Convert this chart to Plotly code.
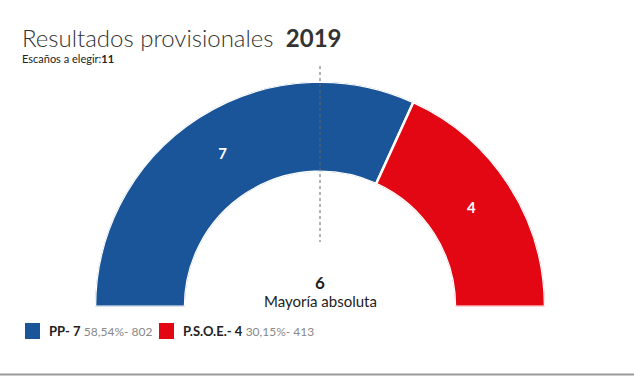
import plotly.graph_objects as go

# ---- data ----
parties = ["PP", "P.S.O.E."]
seats = [7, 4]
pcts = ["58,54%", "30,15%"]
votes = [802, 413]
colors = ["#1A5599", "#E30613"]
total_seats = 11
majority = 6
year = "2019"

W, H = 634, 376
FONT = "Lato, 'Open Sans', sans-serif"

# angular placement computed from seats (counterclockwise from east; PP starts at west)
thetas, widths = [], []
start = 180.0
for s in seats:
    w = s / total_seats * 180.0
    thetas.append(start - w / 2)
    widths.append(w)
    start -= w

fig = go.Figure()
fig.add_trace(go.Barpolar(
    r=[1] * len(seats), theta=thetas, width=widths,
    marker=dict(color=colors, line=dict(color="white", width=2.5)),
    showlegend=False, hoverinfo="skip",
))
fig.add_trace(go.Scatterpolar(
    r=[0.5] * len(seats), theta=thetas, mode="text",
    text=[str(s) for s in seats],
    textfont=dict(family=FONT, size=15, color="white", weight="bold"),
    showlegend=False, hoverinfo="skip",
))

# polar geometry (pixels)
cx, cy, R = 320, 306.7, 225
fig.update_layout(
    width=W, height=H,
    margin=dict(l=0, r=0, t=0, b=0),
    paper_bgcolor="white", plot_bgcolor="white",
    polar=dict(
        domain=dict(x=[(cx - R) / W, (cx + R) / W], y=[(H - cy) / H, (H - cy + R) / H]),
        sector=[0, 180], hole=0.6, bgcolor="rgba(0,0,0,0)",
        radialaxis=dict(range=[0, 1], visible=False),
        angularaxis=dict(visible=False, direction="counterclockwise", rotation=0),
    ),
    showlegend=False,
)

shapes = []
# dashed majority line
shapes.append(dict(type="line", xref="paper", yref="paper",
                   x0=cx / W, x1=cx / W, y0=(H - 66) / H, y1=(H - 242) / H,
                   line=dict(color="#666", width=1, dash="3px,3px"), layer="above"))
# bottom gray rule
shapes.append(dict(type="line", xref="paper", yref="paper",
                   x0=0, x1=1, y0=(H - 374.5) / H, y1=(H - 374.5) / H,
                   line=dict(color="#9a9a9a", width=2)))

annotations = []
annotations.append(dict(
    x=20 / W, y=(H - 37) / H, xref="paper", yref="paper", xanchor="left", yanchor="middle",
    text=f"<span style='font-weight:300'>Resultados provisionales</span>  <b>{year}</b>",
    showarrow=False, font=dict(family=FONT, size=24, color="#333")))
annotations.append(dict(
    x=20 / W, y=(H - 58) / H, xref="paper", yref="paper", xanchor="left", yanchor="middle",
    text=f"Escaños a elegir:<b>{total_seats}</b>",
    showarrow=False, font=dict(family=FONT, size=11, color="#222")))
annotations.append(dict(
    x=cx / W, y=(H - 282) / H, xref="paper", yref="paper", xanchor="center", yanchor="middle",
    text=f"<b>{majority}</b>", showarrow=False, font=dict(family=FONT, size=17, color="#222")))
annotations.append(dict(
    x=cx / W, y=(H - 301) / H, xref="paper", yref="paper", xanchor="center", yanchor="middle",
    text="Mayoría absoluta", showarrow=False, font=dict(family=FONT, size=15, color="#222")))

# custom legend
legend_x = [25, 159]
text_x = [47, 181]
for i, p in enumerate(parties):
    x0 = legend_x[i]
    shapes.append(dict(type="rect", xref="paper", yref="paper",
                       x0=x0 / W, x1=(x0 + 15) / W, y0=(H - 339) / H, y1=(H - 323) / H,
                       fillcolor=colors[i], line=dict(width=0)))
    annotations.append(dict(
        x=text_x[i] / W, y=(H - 331) / H, xref="paper", yref="paper",
        xanchor="left", yanchor="middle", showarrow=False,
        text=f"<b>{p}- {seats[i]}</b> <span style='font-size:12px;color:#888'>{pcts[i]}- {votes[i]}</span>",
        font=dict(family=FONT, size=13, color="#222")))

fig.update_layout(shapes=shapes, annotations=annotations)
fig.write_html("out.html", config={"displayModeBar": False},
               post_script="document.body.style.margin='0';document.body.style.overflow='hidden';")
